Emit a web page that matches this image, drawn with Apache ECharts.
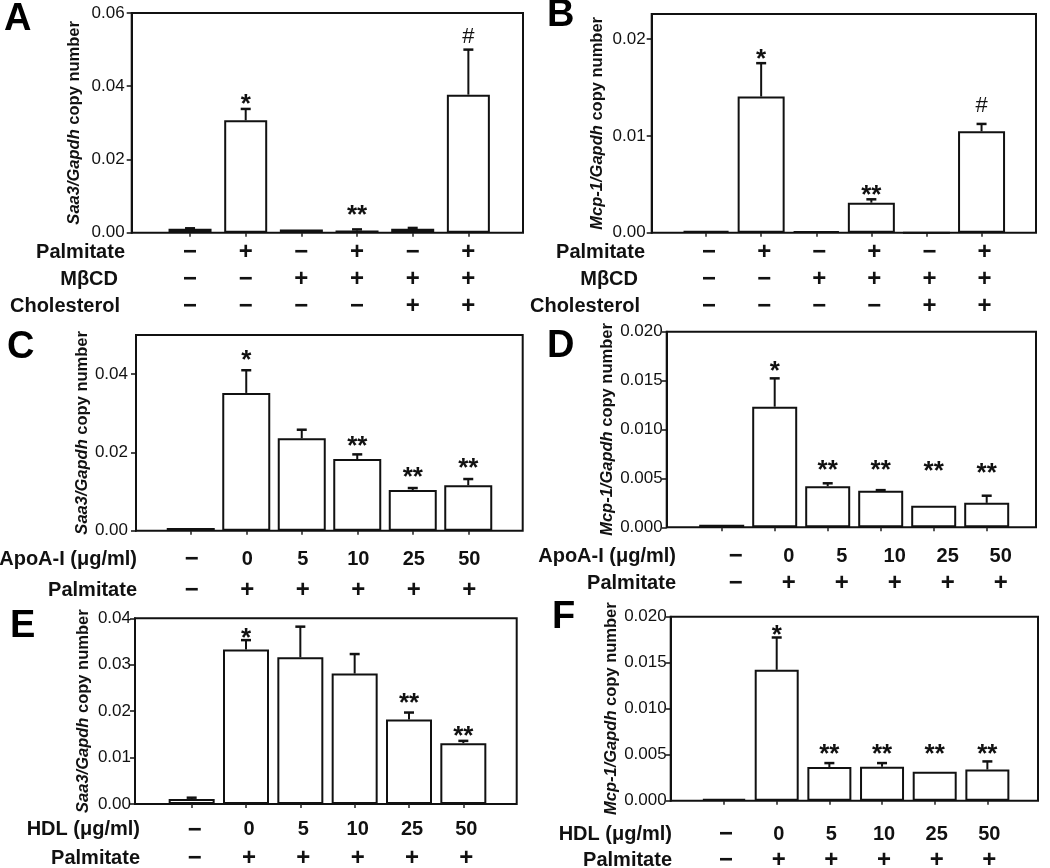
<!DOCTYPE html>
<html><head><meta charset="utf-8">
<script src="https://cdn.jsdelivr.net/npm/echarts@6/dist/echarts.min.js"></script>
<style>html,body{margin:0;padding:0;background:#fff}#c{width:1050px;height:868px}</style>
</head><body><div id="c"></div>
<script>
// ---------- categories ----------
const groupsAB = ['Ctrl', 'Pal', 'MβCD', 'Pal+MβCD', 'MβCD+Chol', 'Pal+MβCD+Chol'];
const groupsDose = ['Ctrl', '0', '5', '10', '25', '50'];

// ---------- treatment rows ----------
const rowNamesAB = ['Palmitate', 'MβCD', 'Cholesterol'];
const palmAB = ['−', '+', '−', '+', '−', '+'];
const mbcdAB = ['−', '−', '+', '+', '+', '+'];
const cholAB = ['−', '−', '−', '−', '+', '+'];
const rowNamesApo = ['ApoA-I (μg/ml)', 'Palmitate'];
const rowNamesHdl = ['HDL (μg/ml)', 'Palmitate'];
const doseRow = ['−', '0', '5', '10', '25', '50'];
const palmRow = ['−', '+', '+', '+', '+', '+'];

// ---------- Panel A: Saa3, MβCD / cholesterol ----------
const saa3A = [0.0011, 0.0307, 0.0009, 0.0006, 0.0011, 0.0377];
const saa3AErr = [0.0012, 0.0338, 0.0009, 0.0009, 0.0013, 0.0500];
const marksA = ['', '*', '', '**', '', '#'];
const marksAY = [null, 0.0367, null, 0.0064, null, 0.0534];
// ---------- Panel B: Mcp-1, MβCD / cholesterol ----------
const mcpB = [0.0002, 0.01407, 0.00017, 0.0031, 0, 0.01048];
const mcpBErr = [0.0002, 0.01752, 0.00017, 0.00345, 0, 0.01124];
const marksB = ['', '*', '', '**', '', '#'];
const marksBY = [null, 0.01861, null, 0.00449, null, 0.0131];
// ---------- Panel C: Saa3, ApoA-I ----------
const saa3C = [0.0007, 0.0352, 0.0236, 0.0183, 0.0104, 0.0116];
const saa3CErr = [0.0007, 0.0410, 0.0258, 0.0195, 0.0109, 0.0132];
const marksC = ['', '*', '', '**', '**', '**'];
const marksCY = [null, 0.0452, null, 0.0233, 0.0152, 0.0177];
// ---------- Panel D: Mcp-1, ApoA-I ----------
const mcpD = [0.00027, 0.01233, 0.0042, 0.00373, 0.0022, 0.0025];
const mcpDErr = [0.00027, 0.01523, 0.0045, 0.0038, 0.0022, 0.00323];
const marksD = ['', '*', '**', '**', '**', '**'];
const marksDY = [null, 0.0166, 0.00654, 0.00654, 0.00637, 0.0062];
// ---------- Panel E: Saa3, HDL ----------
const saa3E = [0.00108, 0.0333, 0.0316, 0.0281, 0.0182, 0.0131];
const saa3EErr = [0.00136, 0.0353, 0.0382, 0.0323, 0.0197, 0.0136];
const marksE = ['', '*', '', '', '**', '**'];
const marksEY = [null, 0.0371, null, null, 0.0230, 0.0159];
// ---------- Panel F: Mcp-1, HDL ----------
const mcpF = [0.00018, 0.01423, 0.00365, 0.00369, 0.00314, 0.00339];
const mcpFErr = [0.00018, 0.01774, 0.00409, 0.00409, 0.00314, 0.00427];
const marksF = ['', '*', '**', '**', '**', '**'];
const marksFY = [null, 0.01863, 0.00576, 0.0058, 0.0057, 0.0057];

// ---------- y tick values ----------
const ticksA = [0, 0.02, 0.04, 0.06];
const ticksB = [0, 0.01, 0.02];
const ticksC = [0, 0.02, 0.04];
const ticksD = [0, 0.005, 0.010, 0.015, 0.020];
const ticksE = [0, 0.01, 0.02, 0.03, 0.04];
const ticksF = [0, 0.005, 0.010, 0.015, 0.020];

const FONT = '"Liberation Sans", Arial, Helvetica, sans-serif';

const panels = [
  {letter:'A', letterPos:[4,20], box:{left:131.7, top:13, width:391.3, height:219.7}, inner:{left:162.2, width:334},
   max:0.06, ticks:ticksA, dec:2, gene:'Saa3/Gapdh', nameGap:49, labelMargin:7, barWidth:43,
   cats:groupsAB, vals:saa3A, errs:saa3AErr, marks:marksA, marksY:marksAY,
   rowNames:rowNamesAB, rows:[palmAB, mbcdAB, cholAB], rowMargin:6.5, rowLH:27, rowNameRight:[125,118,120], rowShift:0},
  {letter:'B', letterPos:[547,16], box:{left:651.7, top:14, width:384.3, height:218.7}, inner:{left:678.5, width:330.6},
   max:0.0226, ticks:ticksB, dec:2, gene:'Mcp-1/Gapdh', nameGap:46, labelMargin:6, barWidth:47,
   cats:groupsAB, vals:mcpB, errs:mcpBErr, marks:marksB, marksY:marksBY,
   rowNames:rowNamesAB, rows:[palmAB, mbcdAB, cholAB], rowMargin:6.5, rowLH:27, rowNameRight:[645,638,640], rowShift:3},
  {letter:'C', letterPos:[7,348], box:{left:136, top:335, width:386.7, height:195.7}, inner:{left:163, width:333},
   max:0.05, ticks:ticksC, dec:2, gene:'Saa3/Gapdh', nameGap:43, labelMargin:8, barWidth:48,
   cats:groupsDose, vals:saa3C, errs:saa3CErr, marks:marksC, marksY:marksCY,
   rowNames:rowNamesApo, rows:[doseRow, palmRow], rowMargin:12.8, rowLH:31, rowNameRight:[137,137], rowShift:1},
  {letter:'D', letterPos:[547,347], box:{left:666.7, top:331.7, width:369.3, height:195.6}, inner:{left:695.2, width:318},
   max:0.02, ticks:ticksD, dec:3, gene:'Mcp-1/Gapdh', nameGap:43, labelMargin:4, barWidth:45,
   cats:groupsDose, vals:mcpD, errs:mcpDErr, marks:marksD, marksY:marksDY,
   rowNames:rowNamesApo, rows:[doseRow, palmRow], rowMargin:16, rowLH:26.7, rowNameRight:[676,676], rowShift:14},
  {letter:'E', letterPos:[10,627], box:{left:135, top:618.3, width:381.7, height:185.7}, inner:{left:164.5, width:326},
   max:0.04, ticks:ticksE, dec:2, gene:'Saa3/Gapdh', nameGap:43, labelMargin:4, barWidth:46,
   cats:groupsDose, vals:saa3E, errs:saa3EErr, marks:marksE, marksY:marksEY,
   rowNames:rowNamesHdl, rows:[doseRow, palmRow], rowMargin:11.8, rowLH:28.3, rowNameRight:[140,140], rowShift:3},
  {letter:'F', letterPos:[552,618], box:{left:670.7, top:616.7, width:367.3, height:184}, inner:{left:697.7, width:316},
   max:0.02, ticks:ticksF, dec:3, gene:'Mcp-1/Gapdh', nameGap:50, labelMargin:4, barWidth:44,
   cats:groupsDose, vals:mcpF, errs:mcpFErr, marks:marksF, marksY:marksFY,
   rowNames:rowNamesHdl, rows:[doseRow, palmRow], rowMargin:20.3, rowLH:26, rowNameRight:[672,672], rowShift:2}
];

const grid = [], xAxis = [], yAxis = [], series = [], graphic = [];

panels.forEach((p, k) => {
  const outer = 2 * k, inner = 2 * k + 1;
  grid.push({show:true, left:p.box.left, top:p.box.top, width:p.box.width, height:p.box.height,
             borderColor:'#111', borderWidth:2, backgroundColor:'transparent', containLabel:false, outerBoundsMode:'none'});
  grid.push({show:false, left:p.inner.left, top:p.box.top, width:p.inner.width, height:p.box.height,
             containLabel:false, outerBoundsMode:'none'});
  xAxis.push({type:'value', gridIndex:outer, show:false, min:0, max:1});
  xAxis.push({type:'category', gridIndex:inner, data:p.cats, boundaryGap:true,
    axisLine:{show:false},
    axisTick:{show:true, alignWithLabel:true, length:4, lineStyle:{color:'#222', width:1.5}},
    axisLabel:{interval:0, margin:p.rowMargin, lineHeight:p.rowLH, fontFamily:FONT, fontSize:20, fontWeight:'bold',
      color:'#111', padding:[0,0,0,2*p.rowShift],
      formatter:(v, idx) => p.rows.map(r => {
        const s = r[idx];
        return (s === '+' || s === '−') ? '{s|' + s + '}' : '{d|' + s + '}';
      }).join('\n'),
      rich:{
        s:{fontFamily:FONT, fontSize:24, fontWeight:'bold', color:'#111', lineHeight:p.rowLH},
        d:{fontFamily:FONT, fontSize:20, fontWeight:'bold', color:'#111', lineHeight:p.rowLH}
      }},
    splitLine:{show:false}});
  yAxis.push({type:'value', gridIndex:outer, min:0, max:p.max,
    axisLine:{show:true, lineStyle:{color:'#111', width:2}},
    axisTick:{show:true, inside:false, length:5, customValues:p.ticks, lineStyle:{color:'#111', width:1.5}},
    axisLabel:{show:true, margin:p.labelMargin, customValues:p.ticks, fontFamily:FONT, fontSize:17, color:'#111',
      formatter:v => Number(v).toFixed(p.dec)},
    splitLine:{show:false},
    name:'{i|' + p.gene + '} copy number', nameLocation:'middle', nameGap:p.nameGap,
    nameTextStyle:{fontFamily:FONT, fontSize:16.5, fontWeight:'bold', color:'#111',
      rich:{i:{fontFamily:FONT, fontSize:16.5, fontWeight:'bold', fontStyle:'italic', color:'#111'}}}});
  yAxis.push({type:'value', gridIndex:inner, min:0, max:p.max, show:false});

  series.push({type:'bar', xAxisIndex:inner, yAxisIndex:inner, data:p.vals, barWidth:p.barWidth,
    itemStyle:{color:'#fff', borderColor:'#111', borderWidth:2}, z:2, silent:true});

  series.push({type:'custom', xAxisIndex:inner, yAxisIndex:inner, z:4, silent:true,
    data:p.vals.map((v, i) => [i, v, p.errs[i]]),
    renderItem:(params, api) => {
      const i = api.value(0), mean = api.value(1), hi = api.value(2);
      const children = [];
      const b = api.coord([i, mean]), t = api.coord([i, hi]);
      if (hi - mean > 1e-6) {
        children.push({type:'line', shape:{x1:b[0], y1:b[1], x2:t[0], y2:t[1]}, style:{stroke:'#111', lineWidth:2}});
        children.push({type:'line', shape:{x1:t[0]-5, y1:t[1], x2:t[0]+5, y2:t[1]}, style:{stroke:'#111', lineWidth:2.5}});
      }
      const mk = p.marks[params.dataIndex], my = p.marksY[params.dataIndex];
      if (mk && my != null) {
        const m = api.coord([i, my]);
        const star = mk.indexOf('*') >= 0;
        const fs = star ? 26 : 22;
        const dy = star ? 7 : 0;
        children.push({type:'text', x:m[0], y:m[1] + dy,
          style:{text:mk, fill:'#111', font:(star ? 'bold ' : 'normal ') + fs + 'px ' + FONT, align:'center', verticalAlign:'middle',
                 textAlign:'center', textVerticalAlign:'middle'}});
      }
      return {type:'group', children};
    }});

  // panel letter
  graphic.push({type:'text', x:p.letterPos[0], y:p.letterPos[1],
    style:{text:p.letter, fill:'#000', font:'bold 38px ' + FONT, align:'left', verticalAlign:'middle',
           textAlign:'left', textVerticalAlign:'middle'}});
  // treatment row names
  p.rowNames.forEach((nm, r) => {
    const y = p.box.top + p.box.height + p.rowMargin + (r + 0.5) * p.rowLH;
    graphic.push({type:'text', x:p.rowNameRight[r], y:y,
      style:{text:nm, fill:'#111', font:'bold 20px ' + FONT, align:'right', verticalAlign:'middle',
             textAlign:'right', textVerticalAlign:'middle'}});
  });
});

const chart = echarts.init(document.getElementById('c'), null, {renderer:'canvas'});
chart.setOption({animation:false, backgroundColor:'#fff', grid, xAxis, yAxis, series, graphic});
</script></body></html>
